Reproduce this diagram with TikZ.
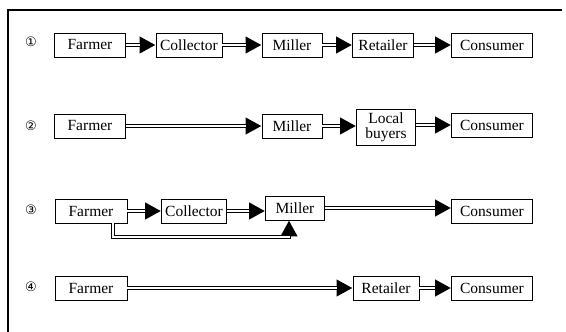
\documentclass[tikz,border=0pt]{standalone}
\usepackage{fontspec}
\setmainfont{Liberation Serif}
\newfontfamily\numfont{DejaVu Sans}
\usetikzlibrary{arrows.meta,positioning}

\begin{document}
\begin{tikzpicture}[
      x=1pt,y=-1pt,
      box/.style={draw,line width=0.9pt,align=center,font=\fontsize{15.5}{15}\selectfont,minimum height=24pt,inner sep=2pt},
      flow/.style={draw=black,line width=4.4pt,-{Triangle[length=16pt,width=16pt]},
        postaction={draw=white,line width=2pt,arrows=-,shorten >=16pt}},
      num/.style={font=\numfont\fontsize{13}{13}\selectfont}
    ]
    \useasboundingbox (0,0) rectangle (566,332);
    \draw[line width=1.2pt] (562,10) -- (8,10) -- (8,332);

    % channel 1
    \node[num] (n1) at (31,42) {①};
    \node[box,minimum width=71pt] (f1) at (90,45) {Farmer};
    \node[box,minimum width=66pt] (c1) at (189,45) {Collector};
    \node[box,minimum width=60pt] (m1) at (292,45) {Miller};
    \node[box,minimum width=61pt] (r1) at (383,45) {Retailer};
    \node[box,minimum width=81pt] (k1) at (492,45) {Consumer};
    \draw[flow] (f1) -- (c1);
    \draw[flow] (c1) -- (m1);
    \draw[flow] (m1) -- (r1);
    \draw[flow] (r1) -- (k1);

    % channel 2
    \node[num] (n2) at (31,126) {②};
    \node[box,minimum width=71pt] (f2) at (90,126) {Farmer};
    \node[box,minimum width=60pt] (m2) at (292,126) {Miller};
    \node[box,minimum width=59pt,minimum height=36pt,inner sep=1pt] (l2) at (386,127) {Local\\ buyers};
    \node[box,minimum width=81pt] (k2) at (492,125) {Consumer};
    \draw[flow] (f2) -- (m2);
    \draw[flow] (m2) -- (l2.west |- m2);
    \draw[flow] (l2.east |- k2) -- (k2);

    % channel 3
    \node[num] (n3) at (31,210) {③};
    \node[box,minimum width=72pt] (f3) at (91,211) {Farmer};
    \node[box,minimum width=65pt] (c3) at (194,211) {Collector};
    \node[box,minimum width=59pt] (m3) at (295,208) {Miller};
    \node[box,minimum width=81pt] (k3) at (492,211) {Consumer};
    \coordinate (bend) at (289,237);
    \draw[flow] (f3) -- (c3);
    \draw[flow] (c3) -- (m3.west |- c3);
    \draw[flow] (m3) -- (k3.west |- m3);
    \draw[flow] ([xshift=22pt]f3.south) |- (bend) -- (bend |- m3.south);

    % channel 4
    \node[num] (n4) at (31,287) {④};
    \node[box,minimum width=72pt] (f4) at (91,288) {Farmer};
    \node[box,minimum width=66pt] (r4) at (386,288) {Retailer};
    \node[box,minimum width=81pt] (k4) at (492,288) {Consumer};
    \draw[flow] (f4) -- (r4);
    \draw[flow] (r4) -- (k4);
  \end{tikzpicture}
\end{document}
